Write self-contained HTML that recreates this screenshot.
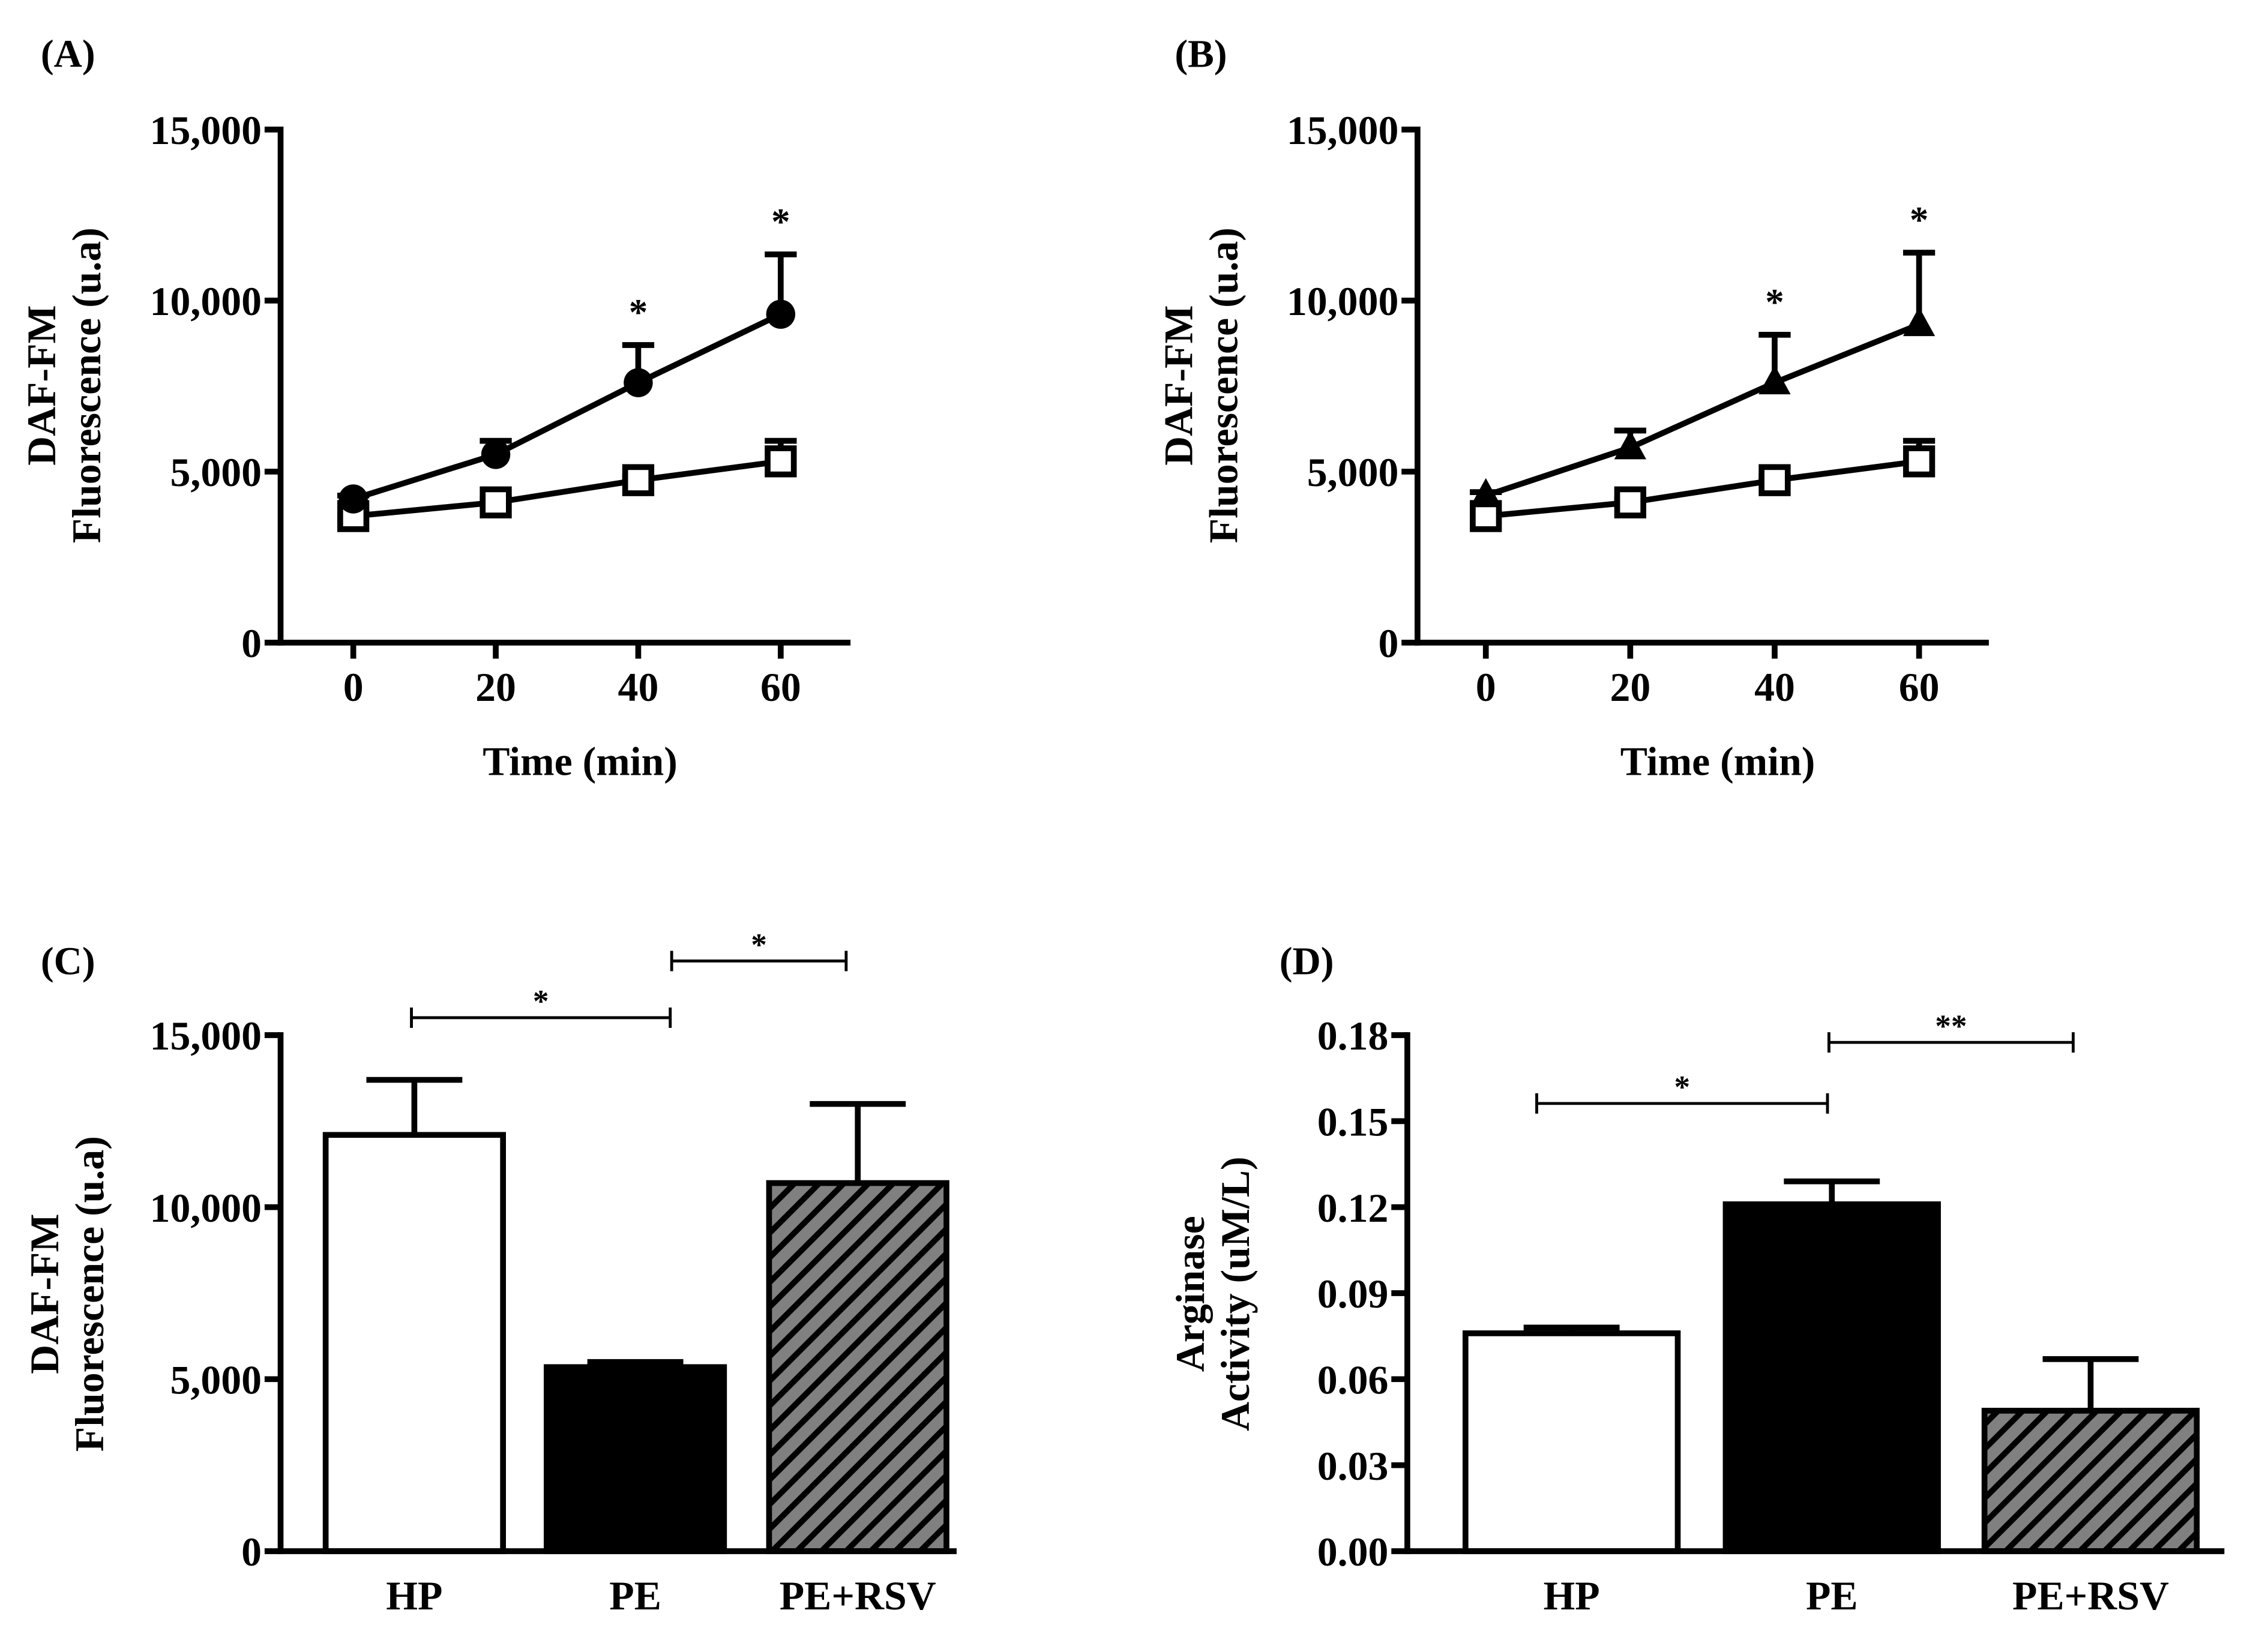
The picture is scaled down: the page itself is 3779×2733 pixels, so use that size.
<!DOCTYPE html>
<html><head><meta charset="utf-8"><style>html,body{margin:0;padding:0;background:#fff}svg{display:block}</style></head>
<body>
<svg id="fig" xmlns="http://www.w3.org/2000/svg" width="3779" height="2733" viewBox="0 0 1560 1128" font-family="'Liberation Serif', serif" font-weight="bold">
<defs>
<pattern id="hatch" patternUnits="userSpaceOnUse" width="12" height="12" patternTransform="rotate(45)">
<rect width="12" height="12" fill="#808080"/><rect width="4" height="12" fill="#000"/>
</pattern>
</defs>
</svg>
<script>
const timeCats=[0,20,40,60];
const aCircle=[4200,5500,7600,9600];
const aCircleErr=[4300,5900,8700,11350];
const aSquare=[3700,4100,4750,5300];
const aSquareErr=[3800,4200,4850,5900];
const bTri=[4300,5700,7600,9300];
const bTriErr=[4400,6200,9000,11400];
const bSquare=[3700,4100,4750,5300];
const bSquareErr=[3800,4200,4850,5900];
const lineYTicks=[0,5000,10000,15000];
const lineYLabels=['0','5,000','10,000','15,000'];
const barCats=['HP','PE','PE+RSV'];
const cVals=[12100,5350,10700];
const cErr=[13700,5500,13000];
const dVals=[0.076,0.121,0.049];
const dErr=[0.078,0.129,0.067];
const dTicks=[0,0.03,0.06,0.09,0.12,0.15,0.18];
const dLabels=['0.00','0.03','0.06','0.09','0.12','0.15','0.18'];

const svg=document.getElementById('fig');
const NS='http://www.w3.org/2000/svg';
function el(tag,attrs,parent){const e=document.createElementNS(NS,tag);for(const k in attrs)e.setAttribute(k,attrs[k]);(parent||svg).appendChild(e);return e;}
function txt(x,y,s,size,anchor,parent,rot){const t=el('text',{x:x,y:y,'font-size':size,'text-anchor':anchor||'middle'},parent);if(rot)t.setAttribute('transform','rotate(-90 '+x+' '+y+')');t.textContent=s;return t;}

function axesY(g,ax,y0,y1,vmax,ticks,labels,xEnd){
  const ys=v=>y0-(v/vmax)*(y0-y1);
  el('line',{x1:ax,y1:y1-2,x2:ax,y2:y0+2,stroke:'#000','stroke-width':4},g);
  el('line',{x1:ax-2,y1:y0,x2:xEnd,y2:y0,stroke:'#000','stroke-width':4},g);
  ticks.forEach((v,i)=>{
    const tk=el('line',{x1:ax-11,y1:ys(v),x2:ax,y2:ys(v),stroke:'#000','stroke-width':4},g);
    
    
    const t=txt(ax-13,ys(v)+10,labels[i],28,'end',g);
    
    
  });
  return ys;
}
function ylabel(g,x,cy,l1,l2){
  const a=txt(x,cy,l1,28,'middle',g,true);
  const b=txt(x+31,cy,l2,28,'middle',g,true);
}

function linePanel(name,letter,lx,ax,x0px,x60px,xEnd,circ,circErr,sq,sqErr,tri){
  const g=el('g',{});
  
  
  const pl=txt(lx,46,letter,27,'start',g);
  const ys=axesY(g,ax,442,89,15000,lineYTicks,lineYLabels,xEnd);
  const xs=t=>x0px+(t/60)*(x60px-x0px);
  timeCats.forEach(t=>{
    const tk=el('line',{x1:xs(t),y1:442,x2:xs(t),y2:453,stroke:'#000','stroke-width':4},g);
    
    const tl=txt(xs(t),482,String(t),28,'middle',g);
  });
  const xt=txt((ax+xEnd)/2+10,533,'Time (min)',28,'middle',g);
  ylabel(g,ax-155,265,'DAF-FM','Fluorescence (u.a)');
  function series(vals,errs,kind,sname){
    const sg=el('g',{},g);
    
    
    vals.forEach((v,i)=>{
      const x=xs(timeCats[i]);
      const e1=el('line',{x1:x,y1:ys(v),x2:x,y2:ys(errs[i]),stroke:'#000','stroke-width':4},sg);
      
      const e2=el('line',{x1:x-11,y1:ys(errs[i]),x2:x+11,y2:ys(errs[i]),stroke:'#000','stroke-width':4},sg);
      
    });
    const pts=vals.map((v,i)=>xs(timeCats[i])+','+ys(v)).join(' ');
    const pl=el('polyline',{points:pts,fill:'none',stroke:'#000','stroke-width':4},sg);
    
    vals.forEach((v,i)=>{
      const x=xs(timeCats[i]),y=ys(v);let m;
      if(kind==='circle')m=el('circle',{cx:x,cy:y,r:10,fill:'#000'},sg);
      else if(kind==='square')m=el('rect',{x:x-9,y:y-9,width:18,height:18,fill:'#fff',stroke:'#000','stroke-width':4},sg);
      else m=el('polygon',{points:(x)+','+(y-12)+' '+(x-11)+','+(y+8)+' '+(x+11)+','+(y+8),fill:'#000'},sg);
      
    });
  }
  series(sq,sqErr,'square','control-series');
  series(circ,circErr,tri?'triangle':'circle',tri?'triangle-series':'circle-series');
  [2,3].forEach(i=>{
    const s=txt(xs(timeCats[i]),ys(circErr[i])-14,'*',26,'middle',g);
    
  });
}
linePanel('panel-a','(A)',28,193,243,537,585,aCircle,aCircleErr,aSquare,aSquareErr,false);
linePanel('panel-b','(B)',808,975,1022,1320,1368,bTri,bTriErr,bSquare,bSquareErr,true);

function barPanel(name,letter,lx,ax,xEnd,vmax,ticks,labels,vals,errs,barX,barW,sigs,l1,l2,ylx){
  const g=el('g',{});
  
  
  const pl=txt(lx,670,letter,27,'start',g);
  const fills=['#fff','#000','url(#hatch)'];
  const ys=v=>1067-(v/vmax)*(1067-712);
  vals.forEach((v,i)=>{
    const cx=barX[i]+barW/2;
    const e1=el('line',{x1:cx,y1:ys(v),x2:cx,y2:ys(errs[i]),stroke:'#000','stroke-width':4},g);
    
    const e2=el('line',{x1:cx-33,y1:ys(errs[i]),x2:cx+33,y2:ys(errs[i]),stroke:'#000','stroke-width':4},g);
    
    const b=el('rect',{x:barX[i],y:ys(v),width:barW,height:1067-ys(v),fill:fills[i],stroke:'#000','stroke-width':4},g);
    
    
    const tl=txt(cx,1107,barCats[i],28,'middle',g);
  });
  axesY(g,ax,1067,712,vmax,ticks,labels,xEnd);
  ylabel(g,ylx,890,l1,l2);
  sigs.forEach(s=>{
    const sg=el('g',{},g);
    
    
    el('line',{x1:s[0],y1:s[2],x2:s[1],y2:s[2],stroke:'#000','stroke-width':2},sg);
    el('line',{x1:s[0],y1:s[2]-7,x2:s[0],y2:s[2]+7,stroke:'#000','stroke-width':2},sg);
    el('line',{x1:s[1],y1:s[2]-7,x2:s[1],y2:s[2]+7,stroke:'#000','stroke-width':2},sg);
    txt((s[0]+s[1])/2,s[2]-4,s[3],22,'middle',sg);
  });
}
barPanel('panel-c','(C)',28,193,658,15000,lineYTicks,lineYLabels,cVals,cErr,[224,376,529],122,
  [[283,461,700,'*'],[462,582,661,'*']],'DAF-FM','Fluorescence (u.a)',40);
barPanel('panel-d','(D)',880,968,1530,0.18,dTicks,dLabels,dVals,dErr,[1008,1187,1365],146,
  [[1057,1257,759,'*'],[1258,1426,717,'**']],'Arginase','Activity (uM/L)',828);
</script>
</body></html>
